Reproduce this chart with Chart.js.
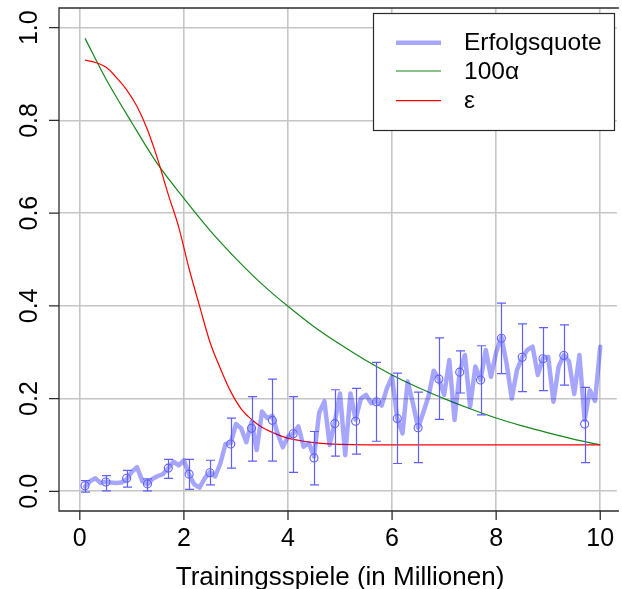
<!DOCTYPE html>
<html>
<head>
<meta charset="utf-8">
<script src="https://cdn.jsdelivr.net/npm/chart.js@4.4.1/dist/chart.umd.min.js"></script>
<style>
  html, body { margin: 0; padding: 0; background: #fff; }
  #wrap { width: 622px; height: 589px; }
</style>
</head>
<body>
<div id="wrap"><canvas id="chart" width="622" height="589"></canvas></div>
<script>
// axis ticks
const xTicks = [0, 2, 4, 6, 8, 10];
const yTicks = [0, 0.2, 0.4, 0.6, 0.8, 1.0];
const yTickLabels = ['0.0', '0.2', '0.4', '0.6', '0.8', '1.0'];
const xTitle = 'Trainingsspiele (in Millionen)';

// Erfolgsquote (thick blue line)
const gamesX = [0.1, 0.2, 0.3, 0.4, 0.5, 0.6, 0.7, 0.8, 0.9, 1.0,
    1.1, 1.2, 1.3, 1.4, 1.5, 1.6, 1.7, 1.8, 1.9, 2.0,
    2.1, 2.2, 2.3, 2.4, 2.5, 2.6, 2.7, 2.8, 2.9, 3.0,
    3.1, 3.2, 3.3, 3.4, 3.5, 3.6, 3.7, 3.8, 3.9, 4.0,
    4.1, 4.2, 4.3, 4.4, 4.5, 4.6, 4.7, 4.8, 4.9, 5.0,
    5.1, 5.2, 5.3, 5.4, 5.5, 5.6, 5.7, 5.8, 5.9, 6.0,
    6.1, 6.2, 6.3, 6.4, 6.5, 6.6, 6.7, 6.8, 6.9, 7.0,
    7.1, 7.2, 7.3, 7.4, 7.5, 7.6, 7.7, 7.8, 7.9, 8.0,
    8.1, 8.2, 8.3, 8.4, 8.5, 8.6, 8.7, 8.8, 8.9, 9.0,
    9.1, 9.2, 9.3, 9.4, 9.5, 9.6, 9.7, 9.8, 9.9, 10.0];
const successRate = [0.010, 0.022, 0.028, 0.018, 0.021, 0.019, 0.018, 0.019, 0.026, 0.042,
    0.052, 0.022, 0.015, 0.027, 0.033, 0.037, 0.050, 0.064, 0.056, 0.067,
    0.036, 0.015, 0.008, 0.028, 0.041, 0.032, 0.060, 0.102, 0.104, 0.145,
    0.136, 0.106, 0.150, 0.089, 0.172, 0.158, 0.163, 0.125, 0.095, 0.118,
    0.124, 0.140, 0.096, 0.104, 0.075, 0.170, 0.194, 0.100, 0.150, 0.211,
    0.078, 0.211, 0.155, 0.200, 0.208, 0.190, 0.195, 0.185, 0.222, 0.247,
    0.157, 0.125, 0.237, 0.190, 0.137, 0.170, 0.205, 0.260, 0.242, 0.208,
    0.283, 0.154, 0.258, 0.294, 0.183, 0.269, 0.240, 0.305, 0.247, 0.300,
    0.333, 0.276, 0.200, 0.262, 0.289, 0.305, 0.312, 0.251, 0.287, 0.290,
    0.193, 0.269, 0.294, 0.280, 0.210, 0.294, 0.154, 0.218, 0.195, 0.312];

// mean with error bars
const errX = [0.1, 0.5, 0.9, 1.3, 1.7, 2.1, 2.5, 2.9, 3.3, 3.7, 4.1, 4.5, 4.9,
    5.3, 5.7, 6.1, 6.5, 6.9, 7.3, 7.7, 8.1, 8.5, 8.9, 9.3, 9.7];
const errMean = [0.012, 0.020, 0.028, 0.016, 0.050, 0.037, 0.040, 0.102, 0.136, 0.153, 0.124, 0.072, 0.146,
    0.151, 0.193, 0.157, 0.137, 0.242, 0.257, 0.240, 0.330, 0.289, 0.286, 0.293, 0.145];
const errLow = [-0.002, 0.001, 0.009, 0.001, 0.028, 0.004, 0.014, 0.050, 0.065, 0.065, 0.041, 0.014, 0.076,
    0.080, 0.108, 0.060, 0.062, 0.155, 0.212, 0.165, 0.254, 0.215, 0.217, 0.229, 0.062];
const errHigh = [0.023, 0.034, 0.045, 0.027, 0.069, 0.069, 0.067, 0.158, 0.204, 0.242, 0.204, 0.129, 0.219,
    0.222, 0.278, 0.255, 0.214, 0.331, 0.303, 0.314, 0.406, 0.361, 0.353, 0.359, 0.224];

// 100 alpha (green)
const alphaX = [0.1, 0.5, 1.0, 1.5, 2.0, 2.5, 3.0, 3.5, 4.0, 4.5, 5.0,
    5.5, 6.0, 6.5, 7.0, 7.5, 8.0, 8.5, 9.0, 9.5, 10.0];
const alpha100 = [0.977, 0.890, 0.795, 0.705, 0.632, 0.563, 0.502, 0.447, 0.399, 0.355, 0.317,
    0.282, 0.251, 0.224, 0.200, 0.178, 0.158, 0.141, 0.126, 0.112, 0.100];

// epsilon (red)
const epsX = [0.1, 0.3, 0.5, 0.7, 0.9, 1.1, 1.3, 1.5, 1.7, 1.9, 2.1, 2.3, 2.5, 2.7, 2.9,
    3.1, 3.3, 3.5, 3.7, 3.9, 4.1, 4.3, 4.5, 4.7, 5.0, 5.5, 10.0];
const eps = [0.930, 0.925, 0.915, 0.893, 0.866, 0.830, 0.780, 0.715, 0.640, 0.570, 0.480, 0.400, 0.322, 0.265, 0.215,
    0.178, 0.155, 0.138, 0.127, 0.118, 0.112, 0.108, 0.105, 0.103, 0.101, 0.100, 0.100];

const toPoints = (xs, ys) => xs.map((v, i) => ({x: v, y: ys[i]}));

const FONT = '"Liberation Sans", Arial, sans-serif';
const BLUE_LINE = 'rgba(0,0,255,0.35)';
const BLUE_ERR = 'rgb(95,95,255)';
const GREEN = '#16861a';
const RED = '#ff0000';

const rStyle = {
    id: 'rStyle',
    afterDatasetsDraw(chart) {
        const {ctx, scales: {x, y}} = chart;
        ctx.save();
        ctx.strokeStyle = BLUE_ERR;
        ctx.lineWidth = 1.2;
        errX.forEach((xv, i) => {
            const px = Math.round(x.getPixelForValue(xv)) + 0.5;
            const top = y.getPixelForValue(errHigh[i]);
            const bot = y.getPixelForValue(errLow[i]);
            ctx.beginPath();
            ctx.moveTo(px, top);
            ctx.lineTo(px, bot);
            ctx.moveTo(px - 4.5, top);
            ctx.lineTo(px + 4.5, top);
            ctx.moveTo(px - 4.5, bot);
            ctx.lineTo(px + 4.5, bot);
            ctx.stroke();
        });
        ctx.restore();
    },
    afterDraw(chart) {
        const {ctx, chartArea: a, scales: {x, y}} = chart;
        ctx.save();

        // box (right side is outside the picture)
        ctx.strokeStyle = '#2b2b2b';
        ctx.lineWidth = 1.3;
        ctx.beginPath();
        ctx.moveTo(a.right + 2, a.top);
        ctx.lineTo(a.left, a.top);
        ctx.lineTo(a.left, a.bottom);
        ctx.lineTo(a.right + 2, a.bottom);
        ctx.stroke();

        // tick marks
        ctx.beginPath();
        xTicks.forEach(v => {
            const px = x.getPixelForValue(v);
            ctx.moveTo(px, a.bottom);
            ctx.lineTo(px, a.bottom + 9);
        });
        yTicks.forEach(v => {
            const py = y.getPixelForValue(v);
            ctx.moveTo(a.left, py);
            ctx.lineTo(a.left - 10, py);
        });
        ctx.stroke();

        // tick labels
        ctx.fillStyle = '#000';
        ctx.font = '25px ' + FONT;
        ctx.textAlign = 'center';
        ctx.textBaseline = 'alphabetic';
        xTicks.forEach(v => {
            ctx.fillText(String(v), x.getPixelForValue(v), 546);
        });
        yTicks.forEach((v, i) => {
            ctx.save();
            ctx.translate(37, y.getPixelForValue(v));
            ctx.rotate(-Math.PI / 2);
            ctx.fillText(yTickLabels[i], 0, 0);
            ctx.restore();
        });

        // axis title
        ctx.font = '26px ' + FONT;
        ctx.fillText(xTitle, x.getPixelForValue(5), 585);

        // legend
        const lx = 373.5, ly = 13.5, lw = 241, lh = 117;
        ctx.fillStyle = '#fff';
        ctx.fillRect(lx, ly, lw, lh);
        ctx.strokeStyle = '#2b2b2b';
        ctx.lineWidth = 1.2;
        ctx.strokeRect(lx, ly, lw, lh);
        const rows = [42.7, 71, 100.7];
        chart.data.datasets.filter(d => d.legendRow !== undefined).forEach(d => {
            const ry = rows[d.legendRow];
            ctx.strokeStyle = d.borderColor;
            ctx.lineWidth = d.borderWidth;
            ctx.lineCap = 'butt';
            ctx.beginPath();
            ctx.moveTo(396, ry);
            ctx.lineTo(441, ry);
            ctx.stroke();
            ctx.fillStyle = '#000';
            ctx.font = '24.5px ' + FONT;
            ctx.textAlign = 'left';
            ctx.textBaseline = 'middle';
            ctx.fillText(d.label, 464, ry + 1);
        });
        ctx.restore();
    }
};

const ctx = document.getElementById('chart').getContext('2d');
const chart = new Chart(ctx, {
    type: 'line',
    data: {
        datasets: [{
            type: 'scatter',
            label: 'Mittelwert',
            data: toPoints(errX, errMean),
            showLine: false,
            pointStyle: 'circle',
            pointRadius: 4,
            borderColor: BLUE_ERR,
            backgroundColor: 'rgba(0,0,0,0)',
            pointBorderWidth: 1.1,
            order: 0
        }, {
            label: 'Erfolgsquote',
            legendRow: 0,
            data: toPoints(gamesX, successRate),
            borderColor: BLUE_LINE,
            borderWidth: 4.5,
            borderJoinStyle: 'round',
            borderCapStyle: 'round',
            pointRadius: 0,
            tension: 0,
            order: 1
        }, {
            label: '100α',
            legendRow: 1,
            data: toPoints(alphaX, alpha100),
            borderColor: GREEN,
            borderWidth: 1.2,
            pointRadius: 0,
            cubicInterpolationMode: 'monotone',
            order: 3
        }, {
            label: 'ε',
            legendRow: 2,
            data: toPoints(epsX, eps),
            borderColor: RED,
            borderWidth: 1.2,
            pointRadius: 0,
            cubicInterpolationMode: 'monotone',
            order: 2
        }]
    },
    options: {
        responsive: false,
        animation: false,
        devicePixelRatio: 1,
        events: [],
        layout: {padding: {left: 59, top: 8, right: 0, bottom: 78}},
        plugins: {legend: {display: false}, tooltip: {enabled: false}},
        scales: {
            x: {
                type: 'linear',
                min: -0.4,
                max: 10.32,
                afterBuildTicks: s => { s.ticks = xTicks.map(v => ({value: v})); },
                afterFit: s => { s.height = 0; },
                ticks: {display: false},
                grid: {color: '#c6c6c6', lineWidth: 1.6, drawTicks: false},
                border: {display: false}
            },
            y: {
                type: 'linear',
                min: -0.0425,
                max: 1.0425,
                afterBuildTicks: s => { s.ticks = yTicks.map(v => ({value: v})); },
                afterFit: s => { s.width = 0; },
                ticks: {display: false},
                grid: {color: '#c6c6c6', lineWidth: 1.6, drawTicks: false},
                border: {display: false}
            }
        }
    },
    plugins: [rStyle]
});
</script>
</body>
</html>
